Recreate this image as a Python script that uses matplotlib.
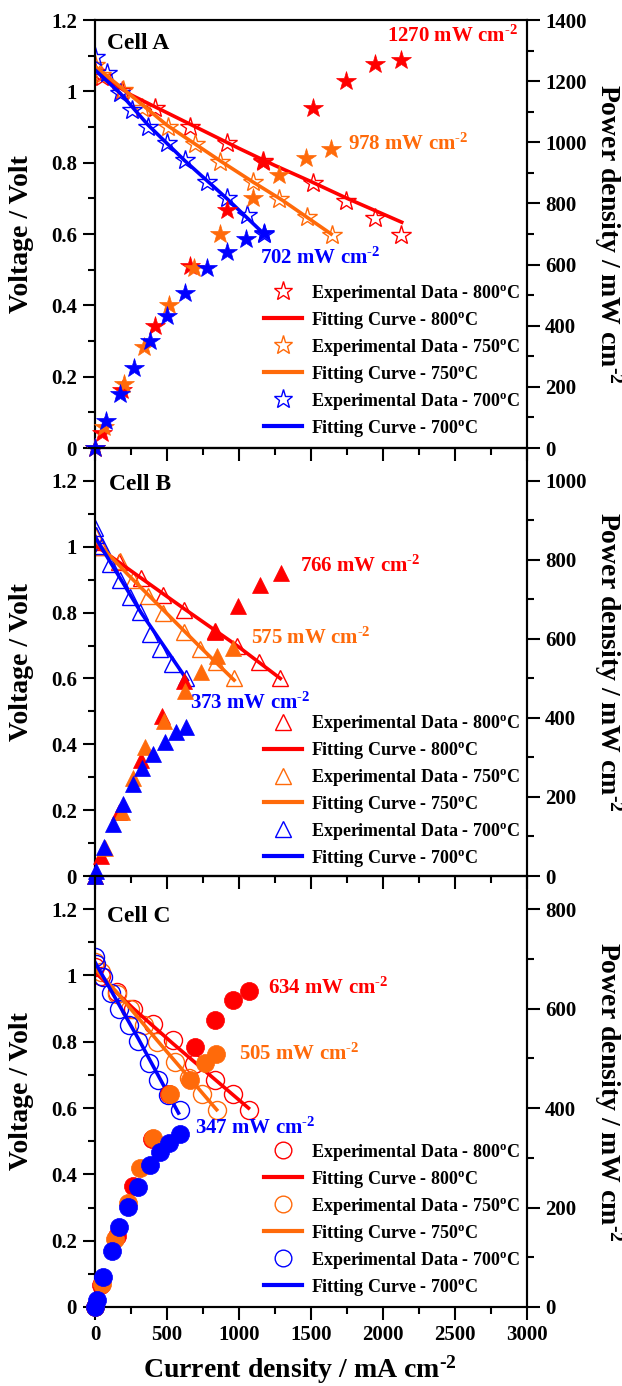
import matplotlib
matplotlib.use('Agg')
import matplotlib.pyplot as plt
from matplotlib.ticker import MultipleLocator, FuncFormatter
from matplotlib.lines import Line2D

plt.rcParams['font.family'] = 'Liberation Serif'
plt.rcParams['font.weight'] = 'bold'
plt.rcParams['mathtext.fontset'] = 'custom'
plt.rcParams['mathtext.rm'] = 'Liberation Serif:bold'
plt.rcParams['mathtext.it'] = 'Liberation Serif:bold'
plt.rcParams['mathtext.bf'] = 'Liberation Serif:bold'
plt.rcParams['mathtext.default'] = 'rm'

RED = '#ff0000'
ORANGE = '#ff6a0a'
BLUE = '#0000ff'

# ---- Cell A (stars) ----
A800_I = [0, 47, 190, 420, 663, 917, 1166, 1511, 1740, 1945, 2127]
A800_V = [1.055, 1.040, 1.000, 0.952, 0.900, 0.855, 0.805, 0.742, 0.692, 0.646, 0.598]
A800_Ip = [0, 47, 190, 420, 663, 917, 1166, 1511, 1740, 1945, 2127]
A800_P = [0, 49, 190, 400, 595, 780, 936, 1112, 1202, 1256, 1270]
A800_fI = [0, 100, 250, 500, 750, 1000, 1250, 1500, 1750, 2000, 2130]
A800_fV = [1.065, 1.03, 0.99, 0.94, 0.89, 0.84, 0.792, 0.747, 0.700, 0.656, 0.633]

A750_I = [0, 40, 197, 324, 509, 694, 868, 1095, 1280, 1470, 1645]
A750_V = [1.075, 1.045, 1.005, 0.952, 0.901, 0.852, 0.803, 0.747, 0.697, 0.647, 0.597]
A750_Ip = [0, 60, 204, 340, 515, 690, 868, 1095, 1280, 1465, 1640]
A750_P = [0, 70, 210, 330, 468, 590, 700, 818, 893, 950, 978]
A750_fI = [0, 200, 500, 870, 1100, 1300, 1640]
A750_fV = [1.07, 1.005, 0.905, 0.805, 0.745, 0.695, 0.60]

A700_I = [0, 81, 174, 255, 370, 498, 625, 775, 914, 1053, 1174]
A700_V = [1.095, 1.05, 0.994, 0.948, 0.901, 0.854, 0.807, 0.747, 0.700, 0.653, 0.600]
A700_Ip = [0, 78, 174, 268, 382, 502, 622, 781, 914, 1048, 1172]
A700_P = [0, 88, 177, 262, 350, 432, 508, 588, 642, 683, 702]
A700_fI = [0, 174, 370, 625, 914, 1174]
A700_fV = [1.06, 0.995, 0.905, 0.805, 0.70, 0.60]

# ---- Cell B (triangles) ----
B800_I = [0, 40, 170, 320, 470, 620, 830, 985, 1138, 1288]
B800_V = [1.015, 1.0, 0.955, 0.905, 0.854, 0.808, 0.745, 0.70, 0.65, 0.60]
B800_Ip = [0, 45, 170, 320, 465, 615, 834, 994, 1143, 1289]
B800_P = [0, 50, 163, 293, 405, 494, 618, 683, 736, 768]
B800_fI = [0, 320, 625, 985, 1287]
B800_fV = [1.005, 0.905, 0.81, 0.70, 0.60]

B750_I = [0, 40, 172, 265, 370, 470, 615, 728, 840, 966]
B750_V = [1.035, 1.0, 0.957, 0.90, 0.85, 0.80, 0.742, 0.689, 0.65, 0.60]
B750_Ip = [0, 69, 185, 266, 347, 481, 625, 733, 850, 955]
B750_P = [0, 71, 161, 248, 327, 393, 469, 516, 556, 578]
B750_fI = [0, 230, 470, 720, 966]
B750_fV = [1.02, 0.915, 0.81, 0.70, 0.595]

B700_I = [0, 10, 46, 104, 174, 243, 312, 382, 451, 532, 632]
B700_V = [1.056, 1.037, 1.002, 0.947, 0.898, 0.848, 0.803, 0.734, 0.689, 0.645, 0.60]
B700_Ip = [0, 8, 60, 127, 197, 266, 329, 405, 486, 560, 630]
B700_P = [0, 12, 74, 132, 182, 232, 273, 310, 339, 364, 376]
B700_fI = [0, 160, 320, 640]
B700_fV = [1.03, 0.915, 0.80, 0.595]

# ---- Cell C (circles) ----
C800_I = [0, 40, 150, 267, 400, 540, 685, 835, 958, 1066]
C800_V = [1.025, 0.997, 0.95, 0.90, 0.853, 0.805, 0.734, 0.686, 0.642, 0.595]
C800_Ip = [0, 45, 150, 262, 393, 513, 695, 832, 955, 1066]
C800_P = [0, 45, 143, 243, 338, 428, 523, 578, 617, 635]
C800_fI = [0, 267, 540, 1066]
C800_fV = [1.01, 0.90, 0.795, 0.60]

C750_I = [0, 45, 150, 245, 340, 428, 558, 650, 745, 847]
C750_V = [1.04, 1.01, 0.945, 0.90, 0.85, 0.80, 0.74, 0.69, 0.642, 0.595]
C750_Ip = [0, 46, 139, 231, 312, 405, 521, 660, 764, 840]
C750_P = [0, 47, 137, 210, 280, 340, 428, 457, 490, 508]
C750_fI = [0, 150, 430, 845]
C750_fV = [1.02, 0.95, 0.805, 0.595]

C700_I = [0, 10, 55, 110, 170, 236, 302, 375, 438, 510, 588]
C700_V = [1.056, 1.036, 0.995, 0.947, 0.898, 0.85, 0.803, 0.736, 0.686, 0.64, 0.595]
C700_Ip = [0, 12, 58, 116, 170, 232, 298, 380, 448, 515, 587]
C700_P = [0, 14, 61, 112, 160, 202, 241, 285, 311, 330, 347]
C700_fI = [0, 300, 580]
C700_fV = [1.04, 0.81, 0.585]

temps = ['800', '750', '700']
colors = [RED, ORANGE, BLUE]
peak_labels = {'A': ['1270', '978', '702'], 'B': ['766', '575', '373'], 'C': ['634', '505', '347']}

SUP = '$^{\\text{-}2}$'

cells = [
    dict(name='A', marker='*', ms=15, vmax=1.2, pmax=1400,
         series=[(A800_I, A800_V, A800_Ip, A800_P, A800_fI, A800_fV),
                 (A750_I, A750_V, A750_Ip, A750_P, A750_fI, A750_fV),
                 (A700_I, A700_V, A700_Ip, A700_P, A700_fI, A700_fV)],
         peak_pos=[(0.676, 0.962), (0.586, 0.71), (0.382, 0.443)],
         cell_pos=(0.028, 0.946), leg_y=0.022),
    dict(name='B', marker='^', ms=12, vmax=1.3, pmax=1300 / 1.2,
         series=[(B800_I, B800_V, B800_Ip, B800_P, B800_fI, B800_fV),
                 (B750_I, B750_V, B750_Ip, B750_P, B750_fI, B750_fV),
                 (B700_I, B700_V, B700_Ip, B700_P, B700_fI, B700_fV)],
         peak_pos=[(0.475, 0.724), (0.361, 0.555), (0.22, 0.404)],
         cell_pos=(0.032, 0.914), leg_y=0.017),
    dict(name='C', marker='o', ms=13, vmax=1.3, pmax=800 * 1.3 / 1.2,
         series=[(C800_I, C800_V, C800_Ip, C800_P, C800_fI, C800_fV),
                 (C750_I, C750_V, C750_Ip, C750_P, C750_fI, C750_fV),
                 (C700_I, C700_V, C700_Ip, C700_P, C700_fI, C700_fV)],
         peak_pos=[(0.40, 0.739), (0.333, 0.586), (0.231, 0.415)],
         cell_pos=(0.028, 0.907), leg_y=0.022),
]

W, H = 622, 1386
x0, x1 = 95, 527
tops = [20, 448, 876]
bots = [448, 876, 1307]

fig = plt.figure(figsize=(W / 100, H / 100), dpi=100)
fmt = FuncFormatter(lambda v, p: '%g' % round(v, 2))

for k, cell in enumerate(cells):
    ax = fig.add_axes([x0 / W, 1 - bots[k] / H, (x1 - x0) / W, (bots[k] - tops[k]) / H])
    ax.set_facecolor('none')
    ax2 = ax.twinx()
    m = cell['marker']
    handles, labels = [], []
    for (I, V, Ip, P, fI, fV), c, t in zip(cell['series'], colors, temps):
        ax.plot(I, V, ls='none', marker=m, ms=cell['ms'], mfc='none', mec=c, mew=1.0, zorder=2)
        ax.plot(fI, fV, color=c, lw=2.6, zorder=3)
        ax2.plot(Ip, P, ls='none', marker=m, ms=cell['ms'], mfc=c, mec=c, mew=0.5, zorder=4,
                 clip_on=False)
        handles.append(Line2D([], [], ls='none', marker=m, ms=cell['ms'] - 1, mfc='none', mec=c, mew=1.0))
        labels.append('Experimental Data - %s$^{o}$C' % t)
        handles.append(Line2D([], [], color=c, lw=3))
        labels.append('Fitting Curve - %s$^{o}$C' % t)

    ax.set_xlim(0, 3000)
    ax.xaxis.set_major_locator(MultipleLocator(500))
    ax.xaxis.set_minor_locator(MultipleLocator(250))
    ax.yaxis.set_minor_locator(MultipleLocator(0.1))
    ax.yaxis.set_major_formatter(fmt)
    ax2.yaxis.set_minor_locator(MultipleLocator(100))
    ax.set_yticks([v / 10 for v in range(0, 13, 2)])
    ax.set_ylim(0, cell['vmax'])
    ax2.set_yticks(list(range(0, int(cell['pmax']) + 1, 200)))
    ax2.set_ylim(0, cell['pmax'])

    for a in (ax, ax2):
        a.tick_params(which='major', direction='out', length=9, width=1.5, labelsize=15, pad=4)
        a.tick_params(which='minor', direction='out', length=5, width=1.5)
        for s in a.spines.values():
            s.set_linewidth(1.5)
    ax.tick_params(axis='x', which='both', top=False, labelbottom=(k == 2))
    for lab in ax.get_xticklabels() + ax.get_yticklabels() + ax2.get_yticklabels():
        lab.set_fontweight('bold')

    ax.set_ylabel('Voltage / Volt', fontsize=20, fontweight='bold', va='center', ha='center')
    ax.yaxis.set_label_coords((22 - x0) / (x1 - x0), 0.5)
    ax2.set_ylabel('Power density / mW cm' + SUP, fontsize=20, fontweight='bold',
                   rotation=270, va='center', ha='center')
    ax2.yaxis.set_label_coords((608 - x0) / (x1 - x0), 0.5)
    if k == 2:
        ax.set_xlabel('Current density / mA cm' + SUP, fontsize=20, fontweight='bold', va='center')
        ax.xaxis.set_label_coords(0.475, -(1370 - bots[k]) / (bots[k] - tops[k]))

    ax.text(cell['cell_pos'][0], cell['cell_pos'][1], 'Cell ' + cell['name'], transform=ax.transAxes,
            fontsize=17, fontweight='bold', ha='left', va='center')
    for (px, py), c, val in zip(cell['peak_pos'], colors, peak_labels[cell['name']]):
        ax.text(px, py, '%s mW cm' % val + SUP, transform=ax.transAxes, color=c,
                fontsize=15, fontweight='bold', ha='left', va='center')

    ax2.legend(handles, labels, loc='lower left', bbox_to_anchor=(0.391, cell['leg_y']),
               frameon=False, prop={'size': 13, 'weight': 'bold'}, handlelength=2.1,
               handletextpad=0.5, labelspacing=0.33, borderpad=0, borderaxespad=0, numpoints=1)

fig.savefig('out.png', dpi=100)
